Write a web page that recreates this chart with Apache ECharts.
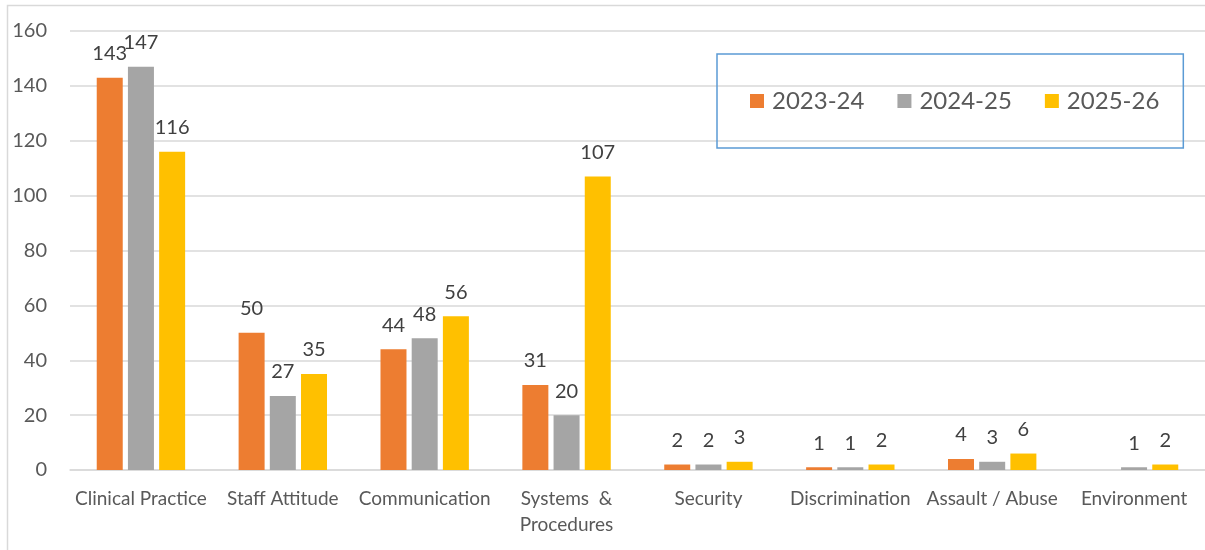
<!DOCTYPE html>
<html>
<head>
<meta charset="utf-8">
<script src="https://cdn.jsdelivr.net/npm/echarts@6/dist/echarts.min.js"></script>
<style>
  html, body { margin: 0; padding: 0; background: #fff; }
  #chart { width: 1205px; height: 550px; }
</style>
</head>
<body>
<div id="chart"></div>
<script>
// Complaint categories and yearly counts
const categories = ['Clinical Practice', 'Staff Attitude', 'Communication', 'Systems  &\nProcedures',
  'Security', 'Discrimination', 'Assault / Abuse', 'Environment'];
const years = ['2023-24', '2024-25', '2025-26'];
const values2023 = [143, 50, 44, 31, 2, 1, 4, null];
const values2024 = [147, 27, 48, 20, 2, 1, 3, 1];
const values2025 = [116, 35, 56, 107, 3, 2, 6, 2];
const yTicks = { min: 0, max: 160, interval: 20 };

const colors = ['#ED7D31', '#A5A5A5', '#FFC000'];
const font = 'Lato, "Open Sans", sans-serif';

function barSeries(name, data, color) {
  return {
    name: name,
    type: 'bar',
    data: data,
    barWidth: 26,
    barGap: '20%',
    itemStyle: { color: color },
    label: {
      show: true,
      position: 'top',
      distance: 14,
      color: '#404040',
      fontFamily: font,
      fontSize: 20
    }
  };
}

const chart = echarts.init(document.getElementById('chart'), null, { renderer: 'canvas' });
chart.setOption({
  animation: false,
  backgroundColor: '#fff',
  color: colors,
  graphic: [{
    type: 'rect',
    shape: { x: 7.5, y: 5.5, width: 1210, height: 570 },
    style: { fill: 'none', stroke: '#D9D9D9', lineWidth: 1.5 },
    silent: true
  }],
  grid: { left: 70, right: -6, top: 31, bottom: 80, containLabel: false },
  legend: {
    data: years,
    left: 717,
    top: 54,
    padding: [35, 24, 35, 33],
    borderColor: '#5B9BD5',
    borderWidth: 1.5,
    itemWidth: 14,
    itemHeight: 14,
    itemGap: 33,
    icon: 'rect',
    textStyle: { color: '#595959', fontFamily: font, fontSize: 24, padding: [0, 0, 0, 3] }
  },
  xAxis: {
    type: 'category',
    data: categories,
    axisLine: { show: true, lineStyle: { color: '#D9D9D9', width: 1.5 } },
    axisTick: { show: false },
    axisLabel: {
      color: '#595959',
      fontFamily: font,
      fontSize: 19,
      margin: 16,
      lineHeight: 26,
      interval: 0
    }
  },
  yAxis: {
    type: 'value',
    min: yTicks.min,
    max: yTicks.max,
    interval: yTicks.interval,
    axisLine: { show: false },
    axisTick: { show: false },
    splitLine: { lineStyle: { color: '#D9D9D9', width: 1.5 } },
    axisLabel: {
      color: '#595959',
      fontFamily: font,
      fontSize: 20,
      margin: 23
    }
  },
  series: [
    barSeries(years[0], values2023, colors[0]),
    barSeries(years[1], values2024, colors[1]),
    barSeries(years[2], values2025, colors[2])
  ]
});
</script>
</body>
</html>
